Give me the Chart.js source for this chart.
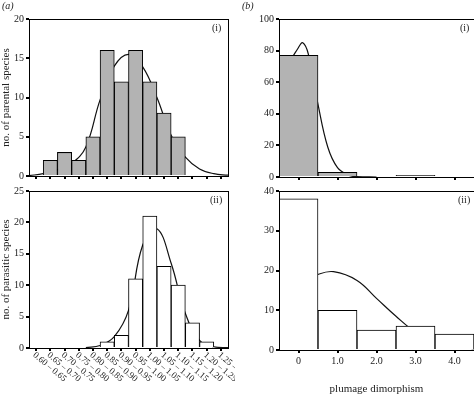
<!DOCTYPE html>
<html>
<head>
<meta charset="utf-8">
<script src="https://cdn.jsdelivr.net/npm/chart.js@4.4.0/dist/chart.umd.min.js"></script>
<style>
body { margin: 0; background: #fff; }
#wrap { position: relative; width: 474px; height: 400px; overflow: hidden; font-family: "Liberation Serif", "DejaVu Serif", serif; }
canvas { position: absolute; }
.lab { position: absolute; font-size: 10px; color: #222; }
</style>
</head>
<body>
<div id="wrap">
  <canvas id="c1" style="left:0;top:0" width="235" height="200"></canvas>
  <canvas id="c2" style="left:0;top:180px" width="235" height="220"></canvas>
  <canvas id="c3" style="left:240px;top:0" width="234" height="200"></canvas>
  <canvas id="c4" style="left:240px;top:180px" width="234" height="220"></canvas>
  <div class="lab" style="left:2px;top:0"><i>(a)</i></div>
  <div class="lab" style="left:242px;top:0"><i>(b)</i></div>
  <div class="lab" style="left:212px;top:22px">(i)</div>
  <div class="lab" style="left:210px;top:194px">(ii)</div>
  <div class="lab" style="left:460px;top:22px">(i)</div>
  <div class="lab" style="left:458px;top:194px">(ii)</div>
</div>
<script>
// size dimorphism (a)
const sizeCats = ['0.60 – 0.65','0.65 – 0.70','0.70 – 0.75','0.75 – 0.80','0.80 – 0.85','0.85 – 0.90','0.90 – 0.95',
  '0.95 – 1.00','1.00 – 1.05','1.05 – 1.10','1.10 – 1.15','1.15 – 1.20','1.20 – 1.25','1.25 – 1.30'];
const parentalSize = [0, 2, 3, 2, 5, 16, 12, 16, 12, 8, 5, 0, 0, 0];
const parasiticSize = [0, 0, 0, 0, 0, 1, 2, 11, 21, 13, 10, 4, 1, 0];
const parentalSizeCurveX = [0, 1, 2, 3, 4, 5, 6, 7, 8, 9, 10, 11, 12, 13, 14];
const parentalSizeCurveY = [0.05, 0.3, 0.8, 1.6, 3.7, 9.7, 14, 15.5, 13.9, 10, 5.2, 2.4, 0.9, 0.3, 0.1];
const parasiticSizeCurveX = [4, 5, 6, 7, 8, 9, 10, 11, 12, 13, 14];
const parasiticSizeCurveY = [0.05, 0.4, 1.8, 6, 16.4, 19, 13.5, 5.5, 1.2, 0.2, 0.05];

// plumage dimorphism (b)
const plumageCats = ['0', '1.0', '2.0', '3.0', '4.0'];
const parentalPlumage = [77, 3, 0, 1, 0];
const parasiticPlumage = [38, 10, 5, 6, 4];
const parentalPlumCurveX = [-0.5, -0.25, 0, 0.11, 0.25, 0.5, 0.75, 1.0, 1.3, 1.5, 2];
const parentalPlumCurveY = [28, 70, 82, 85, 78, 46, 19, 6, 1, 0.2, 0];
const parasiticPlumCurveX = [-0.5, 0, 0.5, 0.9, 1.5, 2, 2.5, 3, 3.5, 4, 4.5];
const parasiticPlumCurveY = [11.5, 16.5, 19, 19.7, 17.5, 13, 8.5, 4.5, 2, 0.8, 0.3];

const FONT = "'Liberation Serif', 'DejaVu Serif', serif";
Chart.defaults.font.family = FONT;
Chart.defaults.font.size = 10;
Chart.defaults.color = '#222';

const boxPlugin = {
  id: 'box',
  afterDraw(chart) {
    const a = chart.chartArea, ctx = chart.ctx;
    ctx.save();
    ctx.strokeStyle = '#000';
    ctx.lineWidth = 1;
    ctx.strokeRect(a.left + 0.5, a.top + 0.5, a.right - a.left, a.bottom - a.top);
    const rot = chart.options.plugins.rotLabels;
    if (rot && rot.labels) {
      const sx = chart.scales.x;
      ctx.fillStyle = '#222';
      ctx.font = '9px ' + FONT;
      ctx.textAlign = 'left';
      ctx.textBaseline = 'middle';
      rot.labels.forEach(function (t, i) {
        ctx.save();
        ctx.translate(sx.getPixelForValue(i) - 2, a.bottom + 6);
        ctx.rotate(40 * Math.PI / 180);
        ctx.fillText(t, 0, 0);
        ctx.restore();
      });
    }
    ctx.restore();
  }
};

function curve(xs, ys) {
  return xs.map(function (x, i) { return { x: x, y: ys[i] }; });
}

function makeChart(id, o) {
  return new Chart(document.getElementById(id), {
    type: 'bar',
    data: {
      labels: o.cats,
      datasets: [{
        type: 'bar',
        data: o.bars,
        backgroundColor: o.fill,
        borderColor: '#000',
        borderWidth: 1,
        grouped: false,
        xAxisID: 'x'
      }, {
        type: 'line',
        data: o.curve,
        borderColor: '#111',
        borderWidth: 1.2,
        pointRadius: 0,
        tension: 0.4,
        xAxisID: 'x2'
      }]
    },
    options: {
      responsive: false,
      animation: false,
      datasets: { bar: { barPercentage: 1, categoryPercentage: 1 } },
      layout: { padding: { top: o.padTop, right: o.padRight, left: 0, bottom: 0 } },
      plugins: { legend: { display: false }, tooltip: { enabled: false }, rotLabels: { labels: o.rotLabels } },
      scales: {
        x: {
          type: 'category',
          offset: true,
          grid: { display: true, drawOnChartArea: false, offset: false, tickLength: 3, lineWidth: 2, color: '#000' },
          border: { display: false },
          ticks: { display: o.showX, padding: 2, maxRotation: 0, font: { size: 10 } },
          title: { display: !!o.xTitle, text: o.xTitle, font: { size: 11 }, padding: { top: 8 } },
          afterFit: function (s) { s.height = o.xHeight; }
        },
        x2: { type: 'linear', display: false, min: o.x2min, max: o.x2max, offset: false, bounds: 'data' },
        y: {
          min: 0, max: o.ymax,
          ticks: { stepSize: o.ystep, padding: 2, font: { size: 10 } },
          grid: { display: true, drawOnChartArea: false, tickLength: 3, lineWidth: 2, color: '#000' },
          border: { display: false },
          title: { display: !!o.yTitle, text: o.yTitle, font: { size: 11 }, padding: 0 },
          afterFit: function (s) { s.width = o.yWidth; }
        }
      }
    },
    plugins: [boxPlugin]
  });
}

makeChart('c1', {
  cats: sizeCats, bars: parentalSize, fill: '#b3b3b3',
  curve: curve(parentalSizeCurveX, parentalSizeCurveY), x2min: 0, x2max: 14,
  padTop: 19, padRight: 7, xHeight: 24, yWidth: 29, ymax: 20, ystep: 5,
  showX: false, yTitle: 'no. of parental species'
});
makeChart('c2', {
  cats: sizeCats, bars: parasiticSize, fill: '#fff',
  curve: curve(parasiticSizeCurveX, parasiticSizeCurveY), x2min: 0, x2max: 14,
  padTop: 11, padRight: 7, xHeight: 52, yWidth: 29, ymax: 25, ystep: 5,
  showX: false, yTitle: 'no. of parasitic species', rotLabels: sizeCats
});
makeChart('c3', {
  cats: plumageCats, bars: parentalPlumage, fill: '#b3b3b3',
  curve: curve(parentalPlumCurveX, parentalPlumCurveY), x2min: -0.5, x2max: 4.5,
  padTop: 19, padRight: 0, xHeight: 23, yWidth: 39, ymax: 100, ystep: 20,
  showX: false
});
makeChart('c4', {
  cats: plumageCats, bars: parasiticPlumage, fill: '#fff',
  curve: curve(parasiticPlumCurveX, parasiticPlumCurveY), x2min: -0.5, x2max: 4.5,
  padTop: 11, padRight: 0, xHeight: 50, yWidth: 39, ymax: 40, ystep: 10,
  showX: true, xTitle: 'plumage dimorphism'
});
</script>
</body>
</html>
